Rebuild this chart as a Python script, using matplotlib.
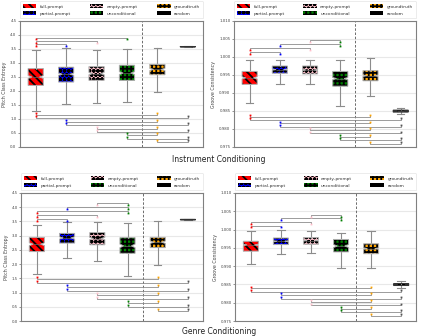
import matplotlib
matplotlib.use('Agg')
import matplotlib.pyplot as plt
from matplotlib.patches import Patch, PathPatch

# ---------------- data ----------------
groups = ['full-prompt', 'partial-prompt', 'empty-prompt', 'unconditional', 'groundtruth', 'random']

# Instrument conditioning - Pitch Class Entropy
inst_pce_med = [2.50, 2.60, 2.62, 2.64, 2.77, 3.583]
inst_pce_q1 = [2.20, 2.32, 2.38, 2.38, 2.58, 3.575]
inst_pce_q3 = [2.80, 2.85, 2.87, 2.92, 2.95, 3.590]
inst_pce_lo = [1.30, 1.52, 1.58, 1.60, 1.98, 3.570]
inst_pce_hi = [3.45, 3.55, 3.47, 3.50, 3.55, 3.595]
inst_pce_ci = [0.05, 0.04, 0.04, 0.05, 0.04, 0.003]
inst_pce_top_pairs = [(1, 2), (1, 3), (1, 4)]

# Instrument conditioning - Groove Consistency
inst_gc_med = [0.9942, 0.9965, 0.9964, 0.9940, 0.9948, 0.98495]
inst_gc_q1 = [0.9924, 0.9955, 0.9953, 0.9919, 0.9934, 0.98470]
inst_gc_q3 = [0.9960, 0.9975, 0.9975, 0.9960, 0.9962, 0.98525]
inst_gc_lo = [0.9872, 0.9924, 0.9924, 0.9863, 0.9892, 0.98410]
inst_gc_hi = [0.9993, 0.9993, 0.9993, 0.9993, 0.9997, 0.98590]
inst_gc_ci = [0.0003, 0.00015, 0.00015, 0.0003, 0.0002, 0.00005]
inst_gc_top_pairs = [(1, 2), (1, 3), (2, 4), (3, 4)]

# Genre conditioning - Pitch Class Entropy
gen_pce_med = [2.70, 2.92, 2.90, 2.64, 2.77, 3.565]
gen_pce_q1 = [2.44, 2.74, 2.68, 2.38, 2.58, 3.555]
gen_pce_q3 = [2.94, 3.08, 3.11, 2.93, 2.94, 3.575]
gen_pce_lo = [1.67, 2.21, 2.11, 1.59, 1.97, 3.550]
gen_pce_hi = [3.38, 3.48, 3.48, 3.45, 3.52, 3.580]
gen_pce_ci = [0.05, 0.04, 0.04, 0.06, 0.04, 0.003]
gen_pce_top_pairs = [(1, 2), (1, 3), (1, 4), (2, 4), (3, 4)]

# Genre conditioning - Groove Consistency
gen_gc_med = [0.9958, 0.9968, 0.9970, 0.9955, 0.9948, 0.98498]
gen_gc_q1 = [0.9941, 0.9959, 0.9960, 0.9939, 0.9934, 0.98470]
gen_gc_q3 = [0.9968, 0.9977, 0.9978, 0.9973, 0.9961, 0.98525]
gen_gc_lo = [0.9907, 0.9933, 0.9936, 0.9894, 0.9894, 0.98410]
gen_gc_hi = [0.9997, 0.9998, 0.9997, 0.9992, 0.9996, 0.98590]
gen_gc_ci = [0.0002, 0.00015, 0.00015, 0.0004, 0.0002, 0.00005]
gen_gc_top_pairs = [(1, 2), (1, 3), (2, 4), (3, 4)]

bottom_pairs = [(1, 5), (1, 6), (2, 5), (2, 6), (3, 5), (3, 6), (4, 5), (4, 6), (5, 6)]

pce_ticks = [0.0, 0.5, 1.0, 1.5, 2.0, 2.5, 3.0, 3.5, 4.0, 4.5]
gc_ticks = [0.975, 0.980, 0.985, 0.990, 0.995, 1.000, 1.005, 1.010]

# ---------------- style ----------------
face_colors = ['red', 'blue', 'pink', 'green', 'orange', 'black']
outline_colors = ['#b0b0b0', '#b0b0b0', '#b0b0b0', '#b0b0b0', '#b0b0b0', '#333333']
hatches = ['\\\\\\\\', 'oooo', 'oooo', '++++', '++++', '++++']
marker_colors = ['red', 'blue', 'pink', 'green', 'orange', '#555555']
plt.rcParams['hatch.linewidth'] = 1.3

fig = plt.figure(figsize=(4.23, 3.36), dpi=100)

panels = [
    dict(rect=[0.047, 0.5625, 0.433, 0.375], med=inst_pce_med, q1=inst_pce_q1, q3=inst_pce_q3,
         lo=inst_pce_lo, hi=inst_pce_hi, ci=inst_pce_ci, top=inst_pce_top_pairs,
         ticks=pce_ticks, fmt='{:.1f}', ylabel='Pitch Class Entropy',
         top_start=3.69, top_step=0.11, bot_start=1.14, bot_step=0.12, tick=0.07),
    dict(rect=[0.553, 0.5625, 0.430, 0.375], med=inst_gc_med, q1=inst_gc_q1, q3=inst_gc_q3,
         lo=inst_gc_lo, hi=inst_gc_hi, ci=inst_gc_ci, top=inst_gc_top_pairs,
         ticks=gc_ticks, fmt='{:.3f}', ylabel='Groove Consistency',
         top_start=1.0013, top_step=0.0011, bot_start=0.9834, bot_step=0.00093, tick=0.0005),
    dict(rect=[0.050, 0.0446, 0.430, 0.381], med=gen_pce_med, q1=gen_pce_q1, q3=gen_pce_q3,
         lo=gen_pce_lo, hi=gen_pce_hi, ci=gen_pce_ci, top=gen_pce_top_pairs,
         ticks=pce_ticks, fmt='{:.1f}', ylabel='Pitch Class Entropy',
         top_start=3.57, top_step=0.145, bot_start=1.47, bot_step=0.14, tick=0.07),
    dict(rect=[0.556, 0.0446, 0.428, 0.381], med=gen_gc_med, q1=gen_gc_q1, q3=gen_gc_q3,
         lo=gen_gc_lo, hi=gen_gc_hi, ci=gen_gc_ci, top=gen_gc_top_pairs,
         ticks=gc_ticks, fmt='{:.3f}', ylabel='Groove Consistency',
         top_start=1.0011, top_step=0.00097, bot_start=0.9839, bot_step=0.00093, tick=0.0005),
]

gray = '#8c8c8c'
positions = list(range(1, len(groups) + 1))

for p in panels:
    ax = fig.add_axes(p['rect'])
    stats = []
    for i in range(len(groups)):
        stats.append(dict(med=p['med'][i], q1=p['q1'][i], q3=p['q3'][i],
                          whislo=p['lo'][i], whishi=p['hi'][i],
                          cilo=p['med'][i] - p['ci'][i], cihi=p['med'][i] + p['ci'][i],
                          fliers=[], label=groups[i]))
    bp = ax.bxp(stats, positions=positions, widths=0.5, patch_artist=True,
                shownotches=True, showfliers=False,
                whiskerprops=dict(color=gray, lw=0.8),
                capprops=dict(color=gray, lw=0.8),
                medianprops=dict(color='#666666', lw=0.5),
                boxprops=dict(lw=0.0))
    for i, box in enumerate(bp['boxes']):
        box.set_facecolor(face_colors[i])
        box.set_edgecolor('black')
        box.set_hatch(hatches[i])
        box.set_linewidth(0)
        outline = PathPatch(box.get_path(), facecolor='none', edgecolor=outline_colors[i], lw=0.7,
                            zorder=box.get_zorder() + 0.1)
        ax.add_patch(outline)

    ax.axvline(4.5, color='#555555', ls='--', lw=0.6, dashes=(3, 2))

    # significance brackets above
    for k, (a, b) in enumerate(p['top']):
        lvl = p['top_start'] + k * p['top_step']
        yend = lvl - p['tick']
        ax.plot([a, a, b, b], [yend, lvl, lvl, yend], color=gray, lw=0.6, zorder=3)
        ax.plot([a], [yend], 's', color=marker_colors[a - 1], ms=1.3, mew=0, zorder=4)
        ax.plot([b], [yend], 's', color=marker_colors[b - 1], ms=1.3, mew=0, zorder=4)
    # significance brackets below
    for k, (a, b) in enumerate(bottom_pairs):
        lvl = p['bot_start'] - k * p['bot_step']
        yend = lvl + p['tick']
        ax.plot([a, a, b, b], [yend, lvl, lvl, yend], color=gray, lw=0.6, zorder=3)
        ax.plot([a], [yend], 's', color=marker_colors[a - 1], ms=1.3, mew=0, zorder=4)
        ax.plot([b], [yend], 's', color=marker_colors[b - 1], ms=1.3, mew=0, zorder=4)

    ax.set_xlim(0.48, 6.5)
    ax.set_ylim(p['ticks'][0], p['ticks'][-1])
    ax.set_yticks(p['ticks'])
    ax.set_yticklabels([p['fmt'].format(t) for t in p['ticks']])
    ax.set_xticks([])
    ax.tick_params(axis='y', labelsize=2.8, length=1.5, width=0.4, pad=1, colors='#444444')
    ax.yaxis.grid(True, color='#e8e8e8', lw=0.8)
    ax.set_axisbelow(True)
    for s in ax.spines.values():
        s.set_color('#808080')
        s.set_linewidth(0.8)
    ax.set_ylabel(p['ylabel'], fontsize=3.4, labelpad=2, color='#444444')

    handles = [Patch(facecolor=face_colors[i], edgecolor='black', hatch=hatches[i], lw=0, label=groups[i])
               for i in range(len(groups))]
    leg = ax.legend(handles=handles, ncol=3, loc='lower left', bbox_to_anchor=(0, 1.02, 1, 0.12),
                    mode='expand', fontsize=3.2, handlelength=3.0, handleheight=1.0,
                    borderaxespad=0, frameon=True, labelspacing=0.6, borderpad=0.6)
    leg.get_frame().set_edgecolor('#dddddd')
    leg.get_frame().set_linewidth(0.5)
    for t in leg.get_texts():
        t.set_color('#333333')

fig.text(0.518, 1 - 160 / 336, 'Instrument Conditioning', ha='center', va='center', fontsize=5.5, color='#222222')
fig.text(0.517, 1 - 331 / 336, 'Genre Conditioning', ha='center', va='center', fontsize=5.5, color='#222222')

fig.savefig('out.png', dpi=100)
